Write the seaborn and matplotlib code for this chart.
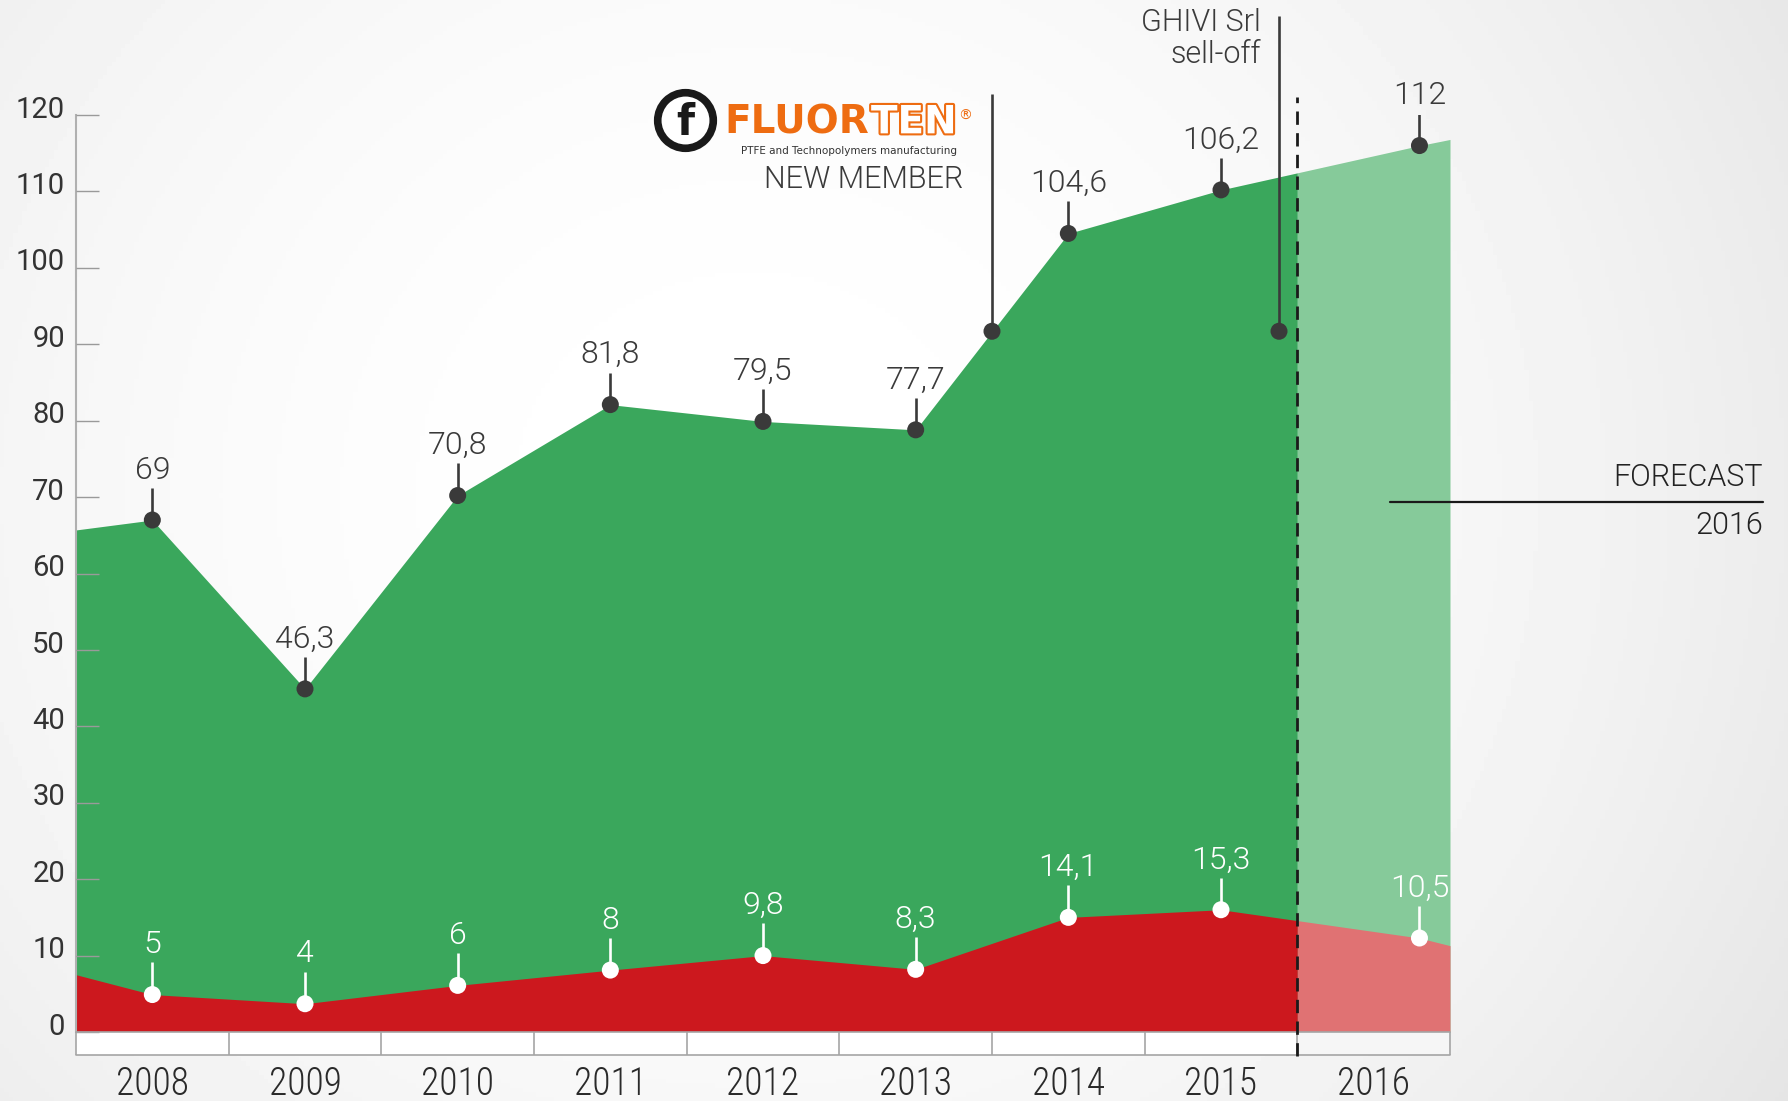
import matplotlib
matplotlib.use("Agg")
import matplotlib.pyplot as plt
import matplotlib.patheffects as pe
from matplotlib import font_manager as fm
from matplotlib.transforms import ScaledTranslation
import seaborn as sns
import numpy as np
import pandas as pd

# values (heights of the dots, edges at the borders)
years = [2008, 2009, 2010, 2011, 2012, 2013, 2014, 2015, 2016]
dot_x = [2008, 2009, 2010, 2011, 2012, 2013, 2014, 2015, 2016.3]
green_vals = [67.0, 44.9, 70.2, 82.1, 79.9, 78.8, 104.5, 110.2, 116.0]
red_vals = [4.9, 3.7, 6.1, 8.1, 10.0, 8.2, 15.0, 16.0, 12.3]
green_labels = ["69", "46,3", "70,8", "81,8", "79,5", "77,7", "104,6", "106,2", "112"]
red_labels = ["5", "4", "6", "8", "9,8", "8,3", "14,1", "15,3", "10,5"]
edge_x = [2007.5, 2016.5]
green_edge = [65.7, 116.8]
red_edge = [7.5, 11.3]
forecast_from = 2015.5
yticks = [0, 10, 20, 30, 40, 50, 60, 70, 80, 90, 100, 110, 120]

# events: fluorten joins, GHIVI sell-off
event_x = [2013.5, 2015.38]
event_y = [91.7, 91.7]
event_top = [122.7, 133.0]

GREEN = "#3aa75c"
GREEN_L = "#86ca9a"
RED = "#cc181e"
RED_L = "#e07273"
DARK = "#3a3a3a"
ORANGE = "#ee6c11"


def weight_of(f):
    w = f.weight
    if isinstance(w, str):
        w = fm.weight_dict.get(w, 400)
    return w


def light_family(cands):
    for fam in cands:
        for f in fm.fontManager.ttflist:
            if f.name == fam and weight_of(f) <= 300:
                return fam, 300
    return None, "normal"


LIGHT, LW = light_family(["Roboto", "Lato", "Open Sans", "Inter", "Noto Sans"])
if LIGHT is None:
    LIGHT = "Liberation Sans"
NARROW, NW = light_family(["Roboto Condensed", "Liberation Sans Narrow"])
if NARROW is None:
    names = {f.name for f in fm.fontManager.ttflist}
    NARROW = "Liberation Sans Narrow" if "Liberation Sans Narrow" in names else LIGHT
    NW = "normal"

sns.set_theme(style="white")
plt.rcParams["font.family"] = [LIGHT, "DejaVu Sans"]

fig = plt.figure(figsize=(17.88, 11.01), dpi=100)

# background: soft radial grey, darker toward the right
bg = fig.add_axes([0, 0, 1, 1], zorder=-10)
gx, gy = np.meshgrid(np.linspace(0, 1, 400), np.linspace(0, 1, 250))
d = np.sqrt(((gx - 0.42) / 0.62) ** 2 + ((gy - 0.55) / 0.95) ** 2)
bg.imshow(1 - 0.085 * d ** 2, cmap="gray", vmin=0, vmax=1, aspect="auto",
          extent=[0, 1, 0, 1], origin="lower")
bg.axis("off")

ax = fig.add_axes([76 / 1788, 69 / 1101, 1374 / 1788, 917 / 1101])
ax.patch.set_alpha(0)

ax_x = np.array([edge_x[0]] + dot_x + [edge_x[1]])
g_y = np.array([green_edge[0]] + green_vals + [green_edge[1]])
r_y = np.array([red_edge[0]] + red_vals + [red_edge[1]])


def split(xs, ys, cut):
    yc = np.interp(cut, xs, ys)
    left = xs < cut
    return (np.r_[xs[left], cut], np.r_[ys[left], yc]), (np.r_[cut, xs[~left]], np.r_[yc, ys[~left]])


(gxl, gyl), (gxr, gyr) = split(ax_x, g_y, forecast_from)
(rxl, ryl), (rxr, ryr) = split(ax_x, r_y, forecast_from)
ax.fill_between(gxl, 0, gyl, color=GREEN, lw=0, zorder=1)
ax.fill_between(gxr, 0, gyr, color=GREEN_L, lw=0, zorder=1)
ax.fill_between(rxl, 0, ryl, color=RED, lw=0, zorder=1.1)
ax.fill_between(rxr, 0, ryr, color=RED_L, lw=0, zorder=1.1)

df = pd.DataFrame({"x": dot_x, "green": green_vals, "red": red_vals})

# stems + dots
ax.vlines(df["x"], df["green"], df["green"] + 4.2, color=DARK, lw=1.9, zorder=4)
ax.vlines(df["x"], df["red"], df["red"] + 4.2, color="white", lw=1.9, zorder=4)
sns.scatterplot(data=df, x="x", y="green", s=150, color=DARK, edgecolor="none",
                zorder=5, ax=ax, clip_on=False)
sns.scatterplot(data=df, x="x", y="red", s=150, color="white", edgecolor="none",
                zorder=5, ax=ax, clip_on=False)
for x, y, t in zip(dot_x, green_vals, green_labels):
    ax.text(x, y + 5.4, t, ha="center", va="baseline", fontsize=23, fontweight=LW,
            color=DARK, clip_on=False, zorder=6)
for x, y, t in zip(dot_x, red_vals, red_labels):
    ax.text(x, y + 5.4, t, ha="center", va="baseline", fontsize=23, fontweight=LW,
            color="white", zorder=6)

# event lines
ax.vlines(event_x, event_y, event_top, color=DARK, lw=1.9, zorder=4, clip_on=False)
sns.scatterplot(x=event_x, y=event_y, s=150, color=DARK, edgecolor="none", zorder=5, ax=ax)

ax.text(2015.26, 132.1, "GHIVI Srl", ha="right", va="center", fontsize=22, fontweight=LW,
        color=DARK, clip_on=False)
ax.text(2015.26, 127.9, "sell-off", ha="right", va="center", fontsize=22, fontweight=LW,
        color=DARK, clip_on=False)

# fluorten logo
ax.plot([2011.49], [119.3], "o", ms=40, mfc="white", mec="#1a1a1a", mew=5.5, clip_on=False, zorder=6)
ax.text(2011.49, 119.0, "f", ha="center", va="center", fontsize=30, fontweight="bold",
        family="DejaVu Sans", color="#1a1a1a", zorder=7, clip_on=False)
t1 = ax.text(2011.75, 117.6, "FLUOR", ha="left", va="baseline", fontsize=28, fontweight="bold",
             family="DejaVu Sans", color=ORANGE, clip_on=False)
t2 = ax.annotate("TEN", xy=(1, 0), xycoords=t1, xytext=(1, 0), textcoords="offset points",
                 ha="left", va="bottom", fontsize=28, fontweight="bold", family="DejaVu Sans",
                 color="white",
                 path_effects=[pe.Stroke(linewidth=3, foreground=ORANGE), pe.Normal()])
ax.annotate("®", xy=(1, 1), xycoords=t2, xytext=(1, -4), textcoords="offset points",
            ha="left", va="top", fontsize=10, color=ORANGE, family="DejaVu Sans")
ax.text(2013.27, 115.3, "PTFE and Technopolymers manufacturing", ha="right", va="center",
        fontsize=7.5, family="DejaVu Sans", color="#333333", clip_on=False)
ax.text(2013.31, 111.6, "NEW MEMBER", ha="right", va="center", fontsize=22, fontweight=LW,
        color=DARK, clip_on=False)

# forecast divider + label
ax.plot([forecast_from, forecast_from], [-3.2, 122.4], ls=(0, (4.8, 3)), color="#1a1a1a",
        lw=2, clip_on=False, zorder=8)
ax.plot([2016.11, 2018.55], [69.4, 69.4], color="#1a1a1a", lw=1.6, clip_on=False, zorder=8)
ax.text(2018.55, 72.6, "FORECAST", ha="right", va="center", fontsize=22, fontweight=LW,
        color="#222222", clip_on=False)
ax.text(2018.55, 66.3, "2016", ha="right", va="center", fontsize=22, fontweight=LW,
        color="#222222", clip_on=False)

# x category strip under the plot
strip = -3.0
ax.fill_between([edge_x[0], forecast_from], strip, 0, color="white", lw=0, clip_on=False, zorder=2)
ax.fill_between([forecast_from, edge_x[1]], strip, 0, color="#f6f6f6", lw=0, clip_on=False, zorder=2)
ax.plot(edge_x, [0, 0], color="#a5a5a5", lw=1.2, clip_on=False, zorder=3)
ax.plot(edge_x, [strip, strip], color="#a5a5a5", lw=1.2, clip_on=False, zorder=3)
ax.vlines(np.arange(edge_x[0], edge_x[1] + 0.5, 1.0), strip, 0, color="#a5a5a5", lw=1.2,
          clip_on=False, zorder=3)

ax.set_xlim(edge_x)
ax.set_ylim(0, 120)
ax.set_xticks(years)
ax.set_xticklabels([str(y) for y in years], family=[NARROW, "DejaVu Sans"], fontsize=27,
                   fontweight=NW, color="#2a2a2a")
ax.set_yticks(yticks)
ax.set_yticklabels([str(v) for v in yticks], fontsize=21, color="#333333")
ax.tick_params(axis="x", length=0, pad=24)
ax.tick_params(axis="y", direction="in", length=16.5, width=1.0, color="#9a9a9a", pad=8, left=True)
for lab in ax.get_yticklabels():
    lab.set_transform(lab.get_transform() + ScaledTranslation(0, 6 / 72, fig.dpi_scale_trans))
ax.set_axisbelow(False)
ax.set_xlabel("")
ax.set_ylabel("")
for s in ["top", "right", "bottom"]:
    ax.spines[s].set_visible(False)
ax.spines["left"].set_color("#b0b0b0")
ax.spines["left"].set_linewidth(1.5)
ax.grid(False)

fig.savefig("out.png", dpi=100)
